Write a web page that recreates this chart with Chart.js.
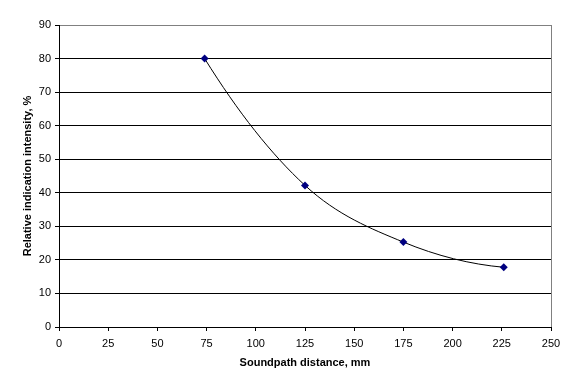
<!DOCTYPE html>
<html>
<head>
<meta charset="utf-8">
<script src="https://cdn.jsdelivr.net/npm/chart.js@4/dist/chart.umd.min.js"></script>
<style>
  html, body { margin: 0; padding: 0; background: #fff; }
  canvas { display: block; }
</style>
</head>
<body>
<canvas id="c" width="577" height="392"></canvas>
<script>
// soundpath distance (mm) vs relative indication intensity (%)
var soundpath = [74, 125, 175, 226];
var intensity = [80, 42.2, 25.3, 17.8];

var xTitle = "Soundpath distance, mm";
var yTitle = "Relative indication intensity, %";

var points = [];
for (let i = 0; i < soundpath.length; i++) {
    points.push({x: soundpath[i], y: intensity[i]});
}

var fontFamily = "'Liberation Sans', Arial, sans-serif";

// gray right edge of the plot area, like the Excel frame
var frame = {
    id: "frame",
    beforeDatasetsDraw: function(chart){
        var a = chart.chartArea;
        var ctx = chart.ctx;
        ctx.save();
        ctx.strokeStyle = "#808080";
        ctx.lineWidth = 1;
        ctx.beginPath();
        ctx.moveTo(Math.round(a.right) + 0.5, a.top);
        ctx.lineTo(Math.round(a.right) + 0.5, a.bottom);
        ctx.stroke();
        ctx.restore();
    }
};

// monotone curve, but with end slopes extrapolated (like a smooth trend curve)
// instead of the plain secant at the first and last point
var endSlopes = {
    id: "endSlopes",
    beforeDatasetsDraw: function(chart){
        var meta = chart.getDatasetMeta(0);
        var line = meta.dataset;
        var pts = meta.data;
        if (!line || pts.length < 3) return;
        line.updateControlPoints(chart.chartArea, "x");

        var p0 = pts[0], p1 = pts[1];
        var d0 = (p1.y - p0.y) / (p1.x - p0.x);
        var m1 = (p1.cp2y - p1.y) / (p1.cp2x - p1.x);
        var m0 = 2 * d0 - m1;
        var dx = (p1.x - p0.x) / 3;
        p0.cp2x = p0.x + dx;
        p0.cp2y = p0.y + dx * m0;

        var n = pts.length - 1;
        var pn = pts[n], pm = pts[n - 1];
        var dn = (pn.y - pm.y) / (pn.x - pm.x);
        var mm = (pm.cp1y - pm.y) / (pm.cp1x - pm.x);
        var mn = 2 * dn - mm;
        dx = (pn.x - pm.x) / 3;
        pn.cp1x = pn.x - dx;
        pn.cp1y = pn.y - dx * mn;
    }
};

new Chart(document.getElementById("c"), {
    type: "scatter",
    data: {
        datasets: [{
            data: points,
            showLine: true,
            borderColor: "#000000",
            borderWidth: 1,
            cubicInterpolationMode: "monotone",
            pointStyle: "rectRot",
            pointRadius: 4,
            pointBackgroundColor: "#000080",
            pointBorderColor: "#000080",
            pointBorderWidth: 0
        }]
    },
    options: {
        responsive: false,
        animation: false,
        layout: { padding: { top: 25, right: 26, left: 21, bottom: 22 } },
        plugins: { legend: { display: false }, tooltip: { enabled: false } },
        scales: {
            x: {
                type: "linear",
                min: 0,
                max: 250,
                ticks: { stepSize: 25, color: "#000", padding: 6, font: { family: fontFamily, size: 11 } },
                grid: { drawOnChartArea: false, drawTicks: true, tickLength: 4, tickColor: "#000" },
                border: { color: "#000" },
                title: { display: true, text: xTitle, color: "#000", padding: { top: 6, bottom: 0 },
                         font: { family: fontFamily, size: 11, weight: "bold" } },
                afterFit: function(scale){ scale.height = 43; }
            },
            y: {
                min: 0,
                max: 90,
                ticks: { stepSize: 10, color: "#000", padding: 4, font: { family: fontFamily, size: 11 } },
                grid: {
                    color: function(c){ return c.tick && c.tick.value === 90 ? "#808080" : "#000"; },
                    lineWidth: 1,
                    tickLength: 4,
                    tickColor: "#000"
                },
                border: { color: "#000" },
                title: { display: true, text: yTitle, color: "#000", padding: { top: 0, bottom: 4 },
                         font: { family: fontFamily, size: 11, weight: "bold" } },
                afterFit: function(scale){ scale.width = 38; }
            }
        }
    },
    plugins: [frame, endSlopes]
});
</script>
</body>
</html>
